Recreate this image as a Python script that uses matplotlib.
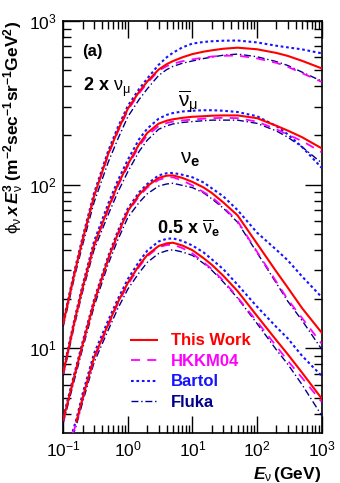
import numpy as np
import matplotlib
matplotlib.use("Agg")
import matplotlib.pyplot as plt
from matplotlib.ticker import LogLocator, NullFormatter

plt.rcParams['font.family'] = ['Liberation Sans', 'DejaVu Sans']
plt.rcParams['mathtext.fontset'] = 'custom'
plt.rcParams['mathtext.rm'] = 'Liberation Sans'
plt.rcParams['mathtext.it'] = 'Liberation Sans:italic'
plt.rcParams['mathtext.bf'] = 'Liberation Sans:bold'
plt.rcParams['mathtext.bfit'] = 'Liberation Sans:bold:italic'

# ---------------- data ----------------
energy = [0.1, 0.15, 0.2, 0.3, 0.5, 0.7, 1, 1.5, 2, 3, 4, 5, 7, 10, 15, 20, 30, 50, 100, 200, 300, 500, 1000]
energy_nuebar = [0.14, 0.16, 0.2, 0.3, 0.5, 0.7, 1, 1.5, 2, 3, 4, 5, 7, 10, 15, 20, 30, 50, 100, 200, 300, 500, 1000]

# 2 x nu_mu
numu_this   = [14.2, 28.9, 46.2, 85, 155, 214, 291, 370, 427, 505, 545, 569, 600, 628, 650, 662, 677, 687, 672, 638, 612, 571, 514]
numu_hkkm   = [14.2, 28.9, 46, 85, 153, 210, 285, 362, 418, 497, 530, 548, 568, 583, 598, 607, 613, 615, 591, 555, 525, 480, 425]
numu_bartol = [14.6, 30, 48, 89, 162, 224, 303, 385, 445, 540, 600, 640, 690, 728, 745, 752, 758, 760, 740, 706, 690, 671, 635]
numu_fluka  = [13.6, 27.5, 43, 78, 138, 190, 260, 332, 385, 465, 505, 528, 552, 570, 590, 602, 618, 628, 605, 565, 535, 487, 430]

# anti nu_mu
numubar_this   = [7.08, 14.7, 23.6, 42.7, 72.4, 100, 133, 177, 207, 236, 246, 251, 256, 260, 262, 264, 265, 265, 255, 229, 214, 195, 167]
numubar_hkkm   = [7.0, 14.6, 23.4, 42, 71, 98, 130, 172, 200, 228, 238, 243, 247, 250, 253, 255, 256, 255, 243, 218, 202, 185, 158]
numubar_bartol = [7.3, 15.2, 24.5, 45, 77, 106, 142, 190, 220, 253, 267, 274, 280, 283, 285, 285, 283, 278, 262, 228, 203, 170, 127]
numubar_fluka  = [6.8, 14, 22.3, 40, 66, 90, 120, 160, 187, 218, 229, 235, 240, 243, 246, 248, 248, 248, 237, 213, 195, 170, 136]

# nu_e
nue_this   = [3.66, 6.86, 10.6, 19.1, 35.5, 50, 69, 87, 98, 110, 113.5, 114, 110, 104, 96, 89, 78, 65, 43.7, 29.4, 23.5, 17.6, 12.5]
nue_hkkm   = [3.6, 6.8, 10.5, 19, 35, 49, 68, 85, 96, 107, 110.5, 111, 106, 99, 90, 84, 73, 60, 39, 25.5, 19.9, 15.3, 10.7]
nue_bartol = [3.8, 7.1, 11, 19.8, 36.8, 52, 71.5, 90, 101, 114, 117.5, 118, 115, 111, 103, 95, 85, 70, 51, 40, 34.5, 27.5, 20.6]
nue_fluka  = [3.5, 6.5, 10, 18, 33, 46, 63, 78, 88, 98, 101, 102, 99, 96, 89, 82, 72, 59, 38.5, 25, 19.4, 14.8, 9.9]

# 0.5 x anti nu_e
nuebar_this   = [np.nan, 3.57, 5.0, 8.8, 14.1, 19.1, 25.1, 32.2, 37.2, 42.2, 43.8, 44.2, 42.5, 39.8, 35.5, 32.4, 27.8, 22.4, 15.8, 11.2, 9.2, 7.1, 4.95]
nuebar_hkkm   = [3.0, 3.5, 4.9, 8.6, 13.8, 18.7, 24.5, 31.5, 36.5, 41.5, 42.8, 43, 41, 38, 33.5, 30.5, 26, 20.5, 14.6, 10.3, 8.4, 6.6, 4.72]
nuebar_bartol = [3.1, 3.7, 5.3, 9.3, 14.9, 20, 26.5, 34, 39.5, 45, 46.7, 47, 45.3, 42.5, 38.5, 35, 30.5, 24.5, 18, 13.5, 11.5, 9.0, 6.8]
nuebar_fluka  = [2.9, 3.4, 4.7, 8.2, 13, 17.5, 23, 29, 33.5, 38, 39.5, 40, 38.8, 37, 33, 30, 25.5, 20.3, 14.2, 9.8, 8.0, 6.0, 3.9]

model_names = ["This Work", "HKKM04", "Bartol", "Fluka"]

# ---------------- figure ----------------
fig = plt.figure(figsize=(3.40, 4.83), dpi=100)
ax = fig.add_axes([0.186, 0.1035, 0.7597, 0.853])

styles = {
    "This Work": dict(color='#ff0000', lw=1.5, ls='-'),
    "HKKM04": dict(color='#ff00ff', lw=1.3, ls=(0, (5, 4))),
    "Bartol": dict(color='#1414ff', lw=1.5, ls=(0, (1.3, 1.3))),
    "Fluka": dict(color='#000088', lw=1.0, ls=(0, (5, 2, 1, 2))),
}

groups = [
    (energy, [numu_this, numu_hkkm, numu_bartol, numu_fluka]),
    (energy, [numubar_this, numubar_hkkm, numubar_bartol, numubar_fluka]),
    (energy, [nue_this, nue_hkkm, nue_bartol, nue_fluka]),
    (energy_nuebar, [nuebar_this, nuebar_hkkm, nuebar_bartol, nuebar_fluka]),
]

draw_order = [3, 2, 1, 0]
handles = {}
for gi, (e, series) in enumerate(groups):
    for mi in draw_order:
        name = model_names[mi]
        ln, = ax.plot(e, series[mi], zorder=3 + (4 - mi), **styles[name])
        if gi == 0:
            handles[name] = ln

ax.set_xscale('log')
ax.set_yscale('log')
ax.set_xlim(0.1, 1000)
ax.set_ylim(3.04, 1000)

ax.tick_params(which='both', direction='in', top=True, right=True, labelsize=12.5, pad=5)
ax.tick_params(which='major', length=12, width=1.0)
ax.tick_params(which='minor', length=6, width=1.0)
ax.xaxis.set_minor_locator(LogLocator(base=10, subs=np.arange(2, 10), numticks=20))
ax.yaxis.set_minor_locator(LogLocator(base=10, subs=np.arange(2, 10), numticks=20))
ax.xaxis.set_minor_formatter(NullFormatter())
ax.yaxis.set_minor_formatter(NullFormatter())
for sp in ax.spines.values():
    sp.set_linewidth(1.2)

ax.set_ylabel(r'$\mathrm{\phi}_{\mathrm{\nu}}\,\mathbfit{x}\,\mathbfit{E}_{\mathrm{\nu}}^{\mathbf{3}}\;\mathbf{(m^{-2}sec^{-1}sr^{-1}GeV^{2})}$',
              loc='top', fontsize=12.5, labelpad=2)
ax.set_xlabel(r'$\mathbfit{E}_{\mathrm{\nu}}\,\mathbf{(GeV)}$', loc='right', fontsize=12.5, labelpad=4)

# annotations
ax.text(0.072, 0.927, '(a)', transform=ax.transAxes, fontsize=12, fontweight='bold', va='center', ha='left')
ax.text(0.078, 0.840, r'$\mathbf{2\ x}\ \mathrm{\nu}_{\mathrm{\mu}}$', transform=ax.transAxes, fontsize=13, va='center', ha='left')
ax.text(0.444, 0.805, r'$\overline{\mathrm{\nu}}_{\mathrm{\mu}}$', transform=ax.transAxes, fontsize=15, va='center', ha='left')
ax.text(0.452, 0.665, r'$\mathrm{\nu}_{\mathbf{e}}$', transform=ax.transAxes, fontsize=15, va='center', ha='left')
ax.text(0.363, 0.498, r'$\mathbf{0.5\ x}\ \overline{\mathrm{\nu}}_{\mathbf{e}}$', transform=ax.transAxes, fontsize=13, va='center', ha='left')

leg = ax.legend([handles[n] for n in model_names], model_names,
                loc='upper left', bbox_to_anchor=(0.235, 0.258), frameon=False,
                handlelength=1.6, handletextpad=0.8, labelspacing=0.33,
                prop=dict(weight='bold', size=12), labelcolor='linecolor', borderaxespad=0)

fig.savefig('out.png', dpi=100)
